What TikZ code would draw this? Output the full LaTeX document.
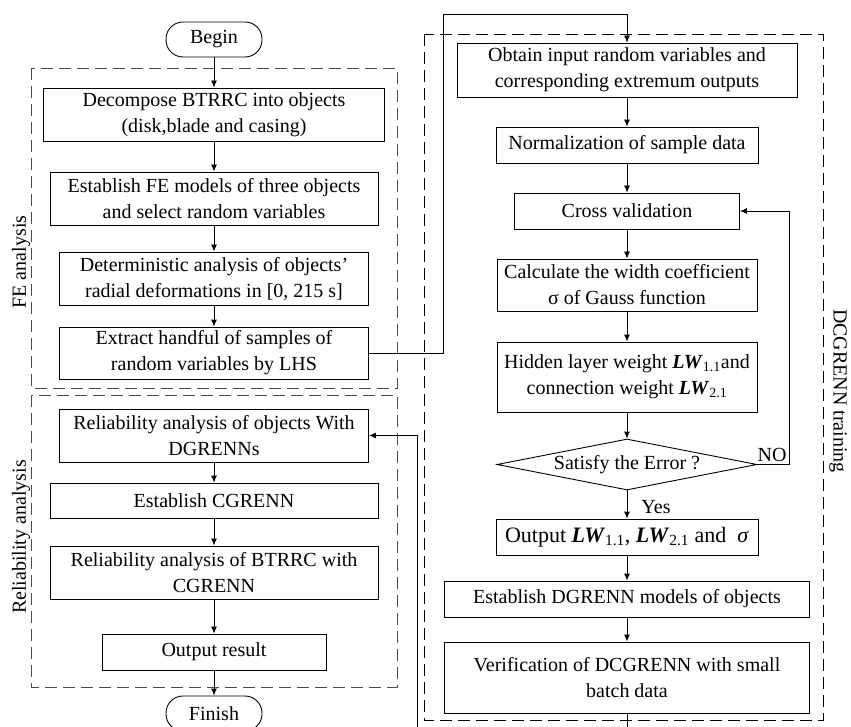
\documentclass[tikz,border=0pt]{standalone}
\usepackage{fontspec}
\setmainfont{Liberation Serif}
\usetikzlibrary{arrows.meta,shapes.geometric}
\begin{document}
\begin{tikzpicture}[x=1pt,y=-1pt,
 box/.style={draw, line width=0.9pt, align=center, inner sep=0pt, font=\fontsize{20}{26}\selectfont},
 term/.style={draw, rounded corners=17pt, line width=0.9pt, inner sep=0pt, font=\fontsize{20}{26}\selectfont},
 arr/.style={-{Latex[length=7pt,width=6pt]}, line width=0.9pt},
 ln/.style={line width=0.9pt},
 grp/.style={dash pattern=on 12pt off 6pt, line width=0.9pt},
 lab/.style={font=\fontsize{20}{24}\selectfont, inner sep=0pt}]
\useasboundingbox (0,0) rectangle (851,727);
\clip (0,0) rectangle (851,727);

% group frames
\draw[grp, gray!60!black] (31,68) rectangle (397,388);
\draw[grp, gray!60!black] (31,395) rectangle (397,687);
\draw[grp] (424,34) rectangle (823,720);

% left column
\node[term, minimum width=96pt, minimum height=35pt] (begin) at (214,39.5) {Begin};
\node[box, minimum width=341pt, minimum height=53pt] (decomp) at (214,114.5) {Decompose BTRRC into objects\\(disk,blade and casing)};
\node[box, minimum width=328pt, minimum height=53pt] (fem) at (214,198.5) {Establish FE models of three objects\\and select random variables};
\node[box, minimum width=309pt, minimum height=53pt] (det) at (214,278.5) {Deterministic analysis of objects’\\radial deformations in [0, 215 s]};
\node[box, minimum width=309pt, minimum height=52pt] (ext) at (214,353) {Extract handful of samples of\\random variables by LHS};
\node[box, minimum width=309pt, minimum height=53pt] (relobj) at (214,435.5) {Reliability analysis of objects With\\DGRENNs};
\node[box, minimum width=328pt, minimum height=35pt] (cgr) at (214,500.5) {Establish CGRENN};
\node[box, minimum width=328pt, minimum height=53pt] (relb) at (214,572.5) {Reliability analysis of BTRRC with\\CGRENN};
\node[box, minimum width=224pt, minimum height=36pt] (out) at (214,652) {Output result};
\node[term, minimum width=96pt, minimum height=35pt] (fin) at (214,713.5) {Finish};

% right column
\node[box, minimum width=340pt, minimum height=54pt] (obt) at (627,70) {Obtain input random variables and\\corresponding extremum outputs};
\node[box, minimum width=262pt, minimum height=36pt] (norm) at (627,145) {Normalization of sample data};
\node[box, minimum width=225pt, minimum height=36pt] (cross) at (627,211) {Cross validation};
\node[box, minimum width=260pt, minimum height=52pt] (calc) at (627,285) {Calculate the width coefficient\\σ of Gauss function};
\node[box, minimum width=260pt, minimum height=70pt] (hid) at (627,377) {Hidden layer weight \textbf{\textit{LW}}\textsubscript{1.1}and\\connection weight \textbf{\textit{LW}}\textsubscript{2.1}};
\node[diamond, draw, line width=0.9pt, aspect=5.1, minimum width=260pt, minimum height=51pt, inner sep=0pt, font=\fontsize{20}{26}\selectfont] (sat) at (627,464.5) {Satisfy the Error ?};
\node[box, minimum width=262pt, minimum height=36pt] (olw) at (627,537) {\fontsize{22}{26}\selectfont Output \textbf{\textit{LW}}\textsubscript{1.1}, \textbf{\textit{LW}}\textsubscript{2.1} and~ \textit{σ}};
\node[box, minimum width=365pt, minimum height=36pt] (edg) at (627,599) {Establish DGRENN models of objects};
\node[box, minimum width=365pt, minimum height=71pt] (ver) at (627,677.5) {Verification of DCGRENN with small\\batch data};

% side labels
\node[lab, rotate=90] (felab) at (21,262) {FE analysis};
\node[lab, rotate=90] (rellab) at (21,537) {Reliability analysis};
\node[lab, rotate=-90] (dclab) at (838,391) {DCGRENN training};

% connectors left
\draw[arr] (begin) -- (decomp);
\draw[arr] (decomp) -- (fem);
\draw[arr] (fem) -- (det);
\draw[arr] (det) -- (ext);
\draw[arr] (relobj) -- (cgr);
\draw[arr] (cgr) -- (relb);
\draw[arr] (relb) -- (out);
\draw[arr] (out) -- (fin);

% connectors right
\draw[arr] (obt) -- (norm);
\draw[arr] (norm) -- (cross);
\draw[arr] (cross) -- (calc);
\draw[arr] (calc) -- (hid);
\draw[arr] (hid) -- (sat);
\draw[arr] (sat) -- node[pos=0.6, right=14pt, font=\fontsize{20}{24}\selectfont, inner sep=0pt] (yes) {Yes} (olw);
\draw[arr] (olw) -- (edg);
\draw[arr] (edg) -- (ver);

% NO loop
\coordinate (nocorner) at (789,464.5);
\draw[arr] (sat.east) -- (nocorner) |- (cross.east);
\node[font=\fontsize{20}{24}\selectfont, inner sep=0pt, anchor=base] (no) at (772,461) {NO};

% FE -> training
\coordinate (c1) at (443,14);
\coordinate (c2) at (627,14);
\draw[arr] (ext.east) -| (c1) -- (c2) -- (obt.north);

% training -> reliability (runs below the picture edge)
\coordinate (b1) at (627,745);
\coordinate (b2) at (417,745);
\draw[arr] (ver.south) -- (b1) -- (b2) |- (relobj.east);
\end{tikzpicture}
\end{document}
